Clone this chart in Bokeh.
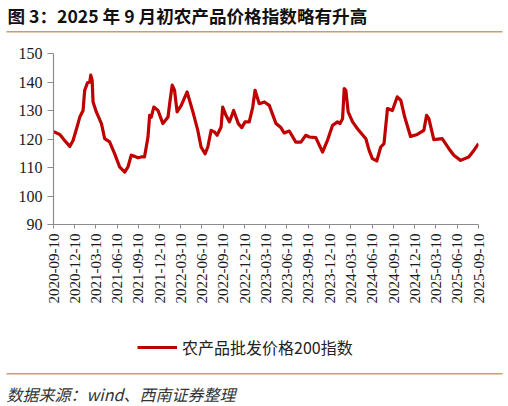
import pandas as pd
from math import pi
from bokeh.plotting import figure
from bokeh.models import (Range1d, FixedTicker, DatetimeTickFormatter, Label,
                          BoxAnnotation, Legend, LegendItem)
from bokeh.embed import file_html
from bokeh.resources import INLINE

title_text = "图 3：2025 年 9 月初农产品价格指数略有升高"
source_text = "数据来源：wind、西南证券整理"
series_name = "农产品批发价格200指数"

dates = [
    "2020-09-10", "2020-10-07", "2020-10-28", "2020-11-19", "2020-12-03", "2020-12-18",
    "2021-01-01", "2021-01-15", "2021-01-22", "2021-02-03", "2021-02-13", "2021-02-17",
    "2021-02-23", "2021-02-27", "2021-03-13", "2021-04-04", "2021-04-18", "2021-05-09",
    "2021-05-31", "2021-06-21", "2021-07-13", "2021-07-27", "2021-08-10", "2021-08-25",
    "2021-09-08", "2021-09-22", "2021-10-06", "2021-10-21", "2021-10-28", "2021-11-04",
    "2021-11-15", "2021-12-03", "2021-12-24", "2022-01-15", "2022-01-24", "2022-02-02",
    "2022-02-12", "2022-02-23", "2022-03-13", "2022-04-07", "2022-05-02", "2022-05-23",
    "2022-06-06", "2022-06-23", "2022-07-05", "2022-07-19", "2022-08-02", "2022-08-14",
    "2022-08-31", "2022-09-07", "2022-09-21", "2022-10-06", "2022-10-24", "2022-11-13",
    "2022-11-28", "2022-12-12", "2022-12-30", "2023-01-14", "2023-01-24", "2023-02-11",
    "2023-03-05", "2023-03-26", "2023-04-24", "2023-05-15", "2023-05-29", "2023-06-20",
    "2023-07-18", "2023-08-09", "2023-08-30", "2023-09-14", "2023-10-12", "2023-11-10",
    "2023-12-01", "2023-12-23", "2024-01-13", "2024-01-24", "2024-02-04", "2024-02-11",
    "2024-02-18", "2024-02-28", "2024-03-18", "2024-04-08", "2024-05-14", "2024-05-28",
    "2024-06-11", "2024-06-30", "2024-07-17", "2024-07-31", "2024-08-15", "2024-09-05",
    "2024-09-26", "2024-10-11", "2024-10-28", "2024-11-22", "2024-12-21", "2025-01-18",
    "2025-01-30", "2025-02-09", "2025-03-02", "2025-04-07", "2025-05-06", "2025-05-27",
    "2025-06-25", "2025-07-30", "2025-08-21", "2025-09-10",
]
values = [
    122.6, 121.6, 119.5, 117.4, 119.5, 123.6,
    127.7, 130.0, 137.1, 139.7, 140.0, 142.4,
    140.6, 133.0, 129.5, 125.4, 120.1, 119.0,
    114.8, 110.2, 108.4, 110.2, 114.3, 113.9,
    113.4, 113.7, 113.7, 120.7, 128.3, 127.7,
    131.2, 130.0, 125.4, 127.7, 133.6, 138.9,
    137.1, 129.5, 131.8, 136.5, 129.5, 123.0,
    117.2, 114.8, 117.2, 123.0, 122.5, 121.3,
    124.2, 131.2, 128.3, 126.0, 130.0, 125.4,
    124.0, 126.0, 126.0, 131.2, 137.1, 132.4,
    133.0, 131.8, 125.4, 124.0, 122.1, 122.8,
    118.9, 118.9, 121.3, 120.7, 120.5, 115.4,
    119.5, 124.8, 126.0, 125.4, 127.1, 137.7,
    137.1, 129.5, 126.0, 123.6, 120.1, 116.0,
    113.1, 112.3, 117.2, 118.4, 130.7, 130.0,
    134.8, 133.6, 127.7, 120.9, 121.6, 123.0,
    128.3, 127.1, 119.8, 120.1, 116.6, 114.3,
    112.5, 113.7, 116.0, 118.4,
]
tick_labels = [
    "2020-09-10", "2020-12-10", "2021-03-10", "2021-06-10", "2021-09-10",
    "2021-12-10", "2022-03-10", "2022-06-10", "2022-09-10", "2022-12-10",
    "2023-03-10", "2023-06-10", "2023-09-10", "2023-12-10", "2024-03-10",
    "2024-06-10", "2024-09-10", "2024-12-10", "2025-03-10", "2025-06-10",
    "2025-09-10",
]
y_ticks = [90, 100, 110, 120, 130, 140, 150]

x = pd.to_datetime(dates)
tick_dt = pd.to_datetime(tick_labels)
tick_ms = [t.value / 1e6 for t in tick_dt]

W = 508
H_TOP, H_MAIN, H_BOT = 38, 278, 90
gold = "#C9A063"
red = "#C00000"
cjk = "Noto Sans CJK SC"


def panel_fig(h):
    f = figure(width=W, height=h, output_backend="svg", toolbar_location=None,
               x_range=Range1d(0, W), y_range=Range1d(h, 0),
               min_border=0, x_axis_location=None, y_axis_location=None)
    f.outline_line_color = None
    f.grid.visible = False
    return f


# --- title strip ---
ft = panel_fig(H_TOP)
ft.add_layout(Label(x=7, y=15, text=title_text, text_font=cjk,
                    text_font_style="bold", text_font_size="17.6px",
                    text_color="#111111", text_baseline="middle"))
ft.add_layout(BoxAnnotation(left=6, right=502, top=30.5, bottom=32,
                            fill_color=gold, fill_alpha=1, line_color=None))

# --- main chart ---
p = figure(width=W, height=H_MAIN, output_backend="svg", toolbar_location=None,
           x_axis_type="datetime",
           x_range=Range1d(tick_dt[0], tick_dt[-1]),
           y_range=Range1d(90, 150),
           min_border_left=53, min_border_right=30,
           min_border_top=15, min_border_bottom=92)
p.outline_line_color = None
p.grid.visible = False

r = p.line(x, values, line_color=red, line_width=3.2, line_join="round")

axis_col = "#8c8c8c"
for ax in (p.xaxis[0], p.yaxis[0]):
    ax.axis_line_color = axis_col
    ax.axis_line_width = 1.2
    ax.major_tick_line_color = axis_col
    ax.minor_tick_line_color = None
    ax.major_tick_in = 0
    ax.major_label_text_font = "Liberation Serif"
    ax.major_label_text_color = "#1a1a1a"

p.yaxis.ticker = FixedTicker(ticks=y_ticks)
p.yaxis.major_tick_out = 6
p.yaxis.major_label_text_font_size = "16px"
p.yaxis.major_label_standoff = 5

p.xaxis.ticker = FixedTicker(ticks=tick_ms)
fmt = "%Y-%m-%d"
p.xaxis.formatter = DatetimeTickFormatter(
    milliseconds=fmt, seconds=fmt, minsec=fmt, minutes=fmt, hourmin=fmt,
    hours=fmt, days=fmt, months=fmt, years=fmt)
p.xaxis.major_label_orientation = pi / 2
p.xaxis.major_tick_out = 4
p.xaxis.major_label_text_font_size = "15px"
p.xaxis.major_label_standoff = 5

# --- legend + source strip ---
fb = panel_fig(H_BOT)
lr = fb.line([-60, -50], [10, 10], line_color=red, line_width=3.2)
legend = Legend(items=[LegendItem(label=series_name, renderers=[lr])],
                location=(137, 47), orientation="horizontal",
                border_line_color=None, background_fill_alpha=0,
                padding=0, margin=0, glyph_width=40, glyph_height=18,
                label_standoff=5, label_text_font=cjk,
                label_text_font_size="16px", label_text_color="#222222")
fb.add_layout(legend, "center")
fb.add_layout(BoxAnnotation(left=6, right=502, top=56.5, bottom=58,
                            fill_color=gold, fill_alpha=1, line_color=None))
fb.add_layout(Label(x=6, y=77, text=source_text, text_font=cjk,
                    text_font_style="italic", text_font_size="16px",
                    text_color="#333333", text_baseline="middle"))

open("out.html", "w").write(file_html([ft, p, fb], INLINE))
